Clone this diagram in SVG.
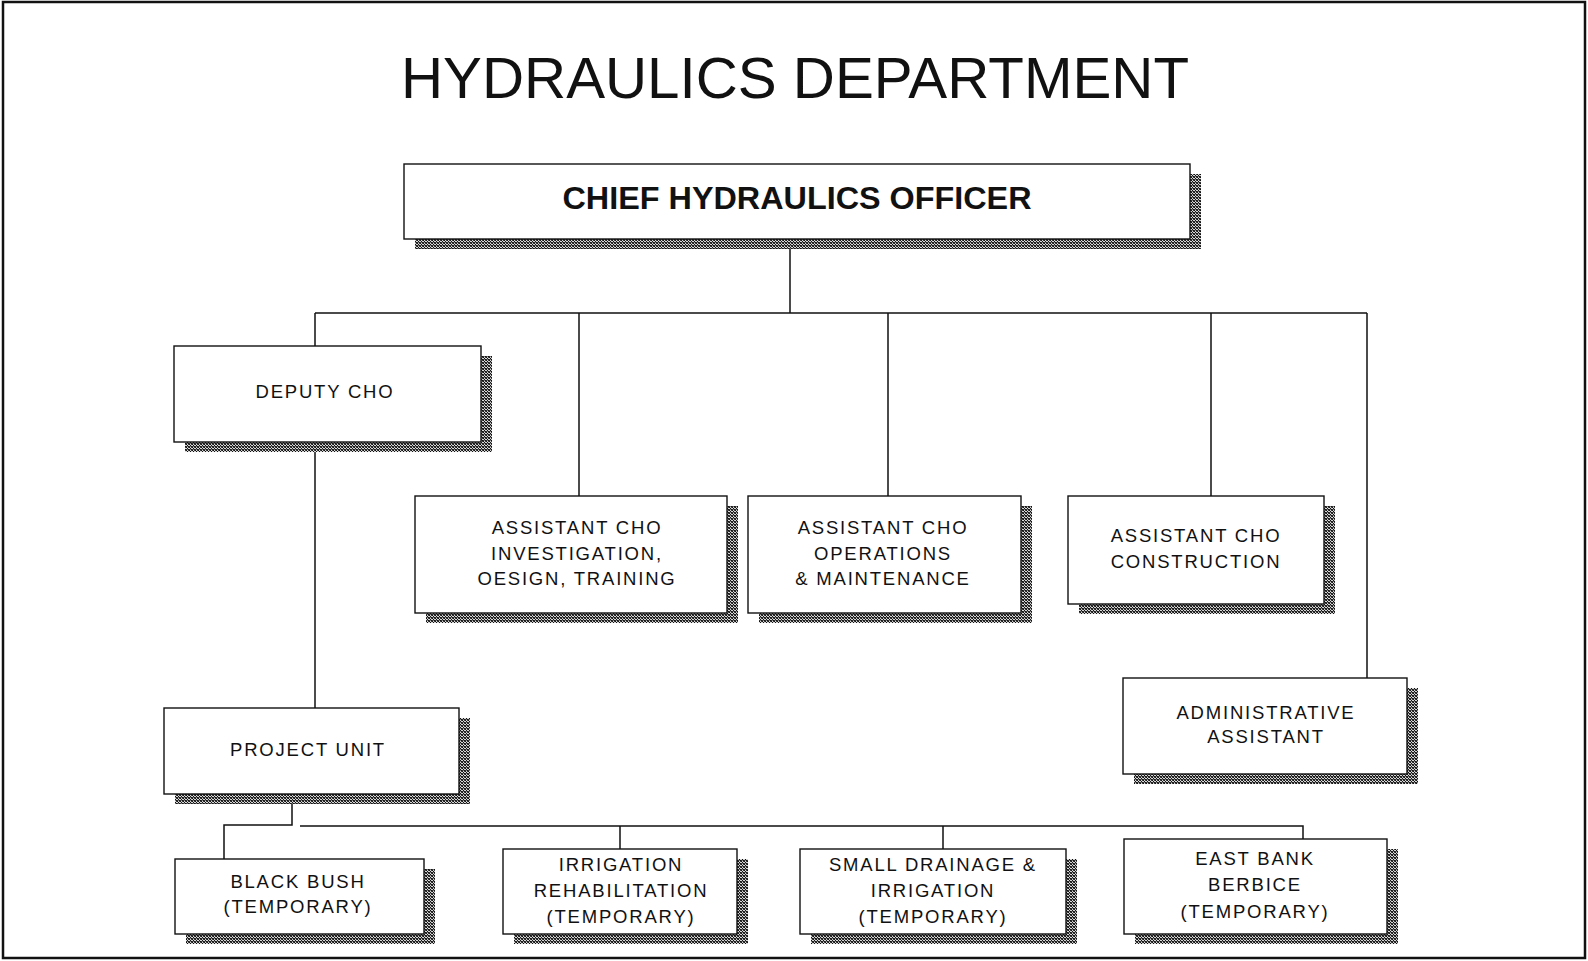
<svg xmlns="http://www.w3.org/2000/svg" width="1588" height="961" viewBox="0 0 1588 961">
<defs>
<pattern id="dither" width="3" height="3" patternUnits="userSpaceOnUse">
<rect width="3" height="3" fill="#d8d8d8"/>
<rect x="0" y="0" width="1" height="1" fill="#111"/>
<rect x="2" y="0" width="1" height="1" fill="#444"/>
<rect x="1" y="1" width="1" height="1" fill="#111"/>
<rect x="0" y="2" width="1" height="1" fill="#333"/>
<rect x="2" y="2" width="1" height="1" fill="#111"/>
<rect x="1" y="2" width="1" height="1" fill="#777"/>
</pattern>
</defs>
<style>
.box{fill:#fff;stroke:#111;stroke-width:1.4}
.shadow{fill:url(#dither)}
.lbl{font-family:"Liberation Sans",Arial,sans-serif;font-size:18.5px;letter-spacing:1.8px;fill:#111;text-anchor:middle}
.con{stroke:#111;stroke-width:1.5;fill:none}
</style>
<rect x="0" y="0" width="1588" height="961" fill="#fff"/>
<rect x="3" y="2" width="1582" height="956" fill="none" stroke="#111" stroke-width="2.5"/>
<text x="795" y="98" font-family="'Liberation Sans',Arial,sans-serif" font-size="58" text-anchor="middle" fill="#111" textLength="788" lengthAdjust="spacingAndGlyphs">HYDRAULICS DEPARTMENT</text>

<g id="connectors">
<path class="con" d="M790 239 V313 M315 313 H1367 M315 313 V346 M579 313 V496 M888 313 V496 M1211 313 V496 M1367 313 V678"/>
<path class="con" d="M315 442 V708"/>
<path class="con" d="M292 794 V825 H224 V859"/>
<path class="con" d="M300 826 H1303 V839 M620 826 V849 M943 826 V849"/>
</g>

<g id="chief">
<rect class="shadow" x="415" y="174" width="786" height="75"/>
<rect class="box" x="404" y="164" width="786" height="75"/>
<text x="797" y="209" font-family="'Liberation Sans',Arial,sans-serif" font-size="31" font-weight="bold" text-anchor="middle" fill="#111" textLength="469" lengthAdjust="spacingAndGlyphs">CHIEF HYDRAULICS OFFICER</text>
</g>

<g id="deputy">
<rect class="shadow" x="185" y="356" width="307" height="96"/>
<rect class="box" x="174" y="346" width="307" height="96"/>
<text class="lbl" x="325" y="398">DEPUTY CHO</text>
</g>

<g id="acho-investigation">
<rect class="shadow" x="426" y="506" width="312" height="117"/>
<rect class="box" x="415" y="496" width="312" height="117"/>
<text class="lbl" x="577" y="534">ASSISTANT CHO</text>
<text class="lbl" x="577" y="560">INVESTIGATION,</text>
<text class="lbl" x="577" y="585">OESIGN, TRAINING</text>
</g>

<g id="acho-operations">
<rect class="shadow" x="759" y="506" width="273" height="117"/>
<rect class="box" x="748" y="496" width="273" height="117"/>
<text class="lbl" x="883" y="534">ASSISTANT CHO</text>
<text class="lbl" x="883" y="560">OPERATIONS</text>
<text class="lbl" x="883" y="585">&amp; MAINTENANCE</text>
</g>

<g id="acho-construction">
<rect class="shadow" x="1079" y="506" width="256" height="108"/>
<rect class="box" x="1068" y="496" width="256" height="108"/>
<text class="lbl" x="1196" y="542">ASSISTANT CHO</text>
<text class="lbl" x="1196" y="568">CONSTRUCTION</text>
</g>

<g id="admin-assistant">
<rect class="shadow" x="1134" y="688" width="284" height="96"/>
<rect class="box" x="1123" y="678" width="284" height="96"/>
<text class="lbl" x="1266" y="719">ADMINISTRATIVE</text>
<text class="lbl" x="1266" y="743">ASSISTANT</text>
</g>

<g id="project-unit">
<rect class="shadow" x="175" y="718" width="295" height="86"/>
<rect class="box" x="164" y="708" width="295" height="86"/>
<text class="lbl" x="308" y="756">PROJECT UNIT</text>
</g>

<g id="black-bush">
<rect class="shadow" x="186" y="869" width="249" height="75"/>
<rect class="box" x="175" y="859" width="249" height="75"/>
<text class="lbl" x="298" y="888">BLACK BUSH</text>
<text class="lbl" x="298" y="913">(TEMPORARY)</text>
</g>

<g id="irrigation-rehab">
<rect class="shadow" x="514" y="859" width="234" height="85"/>
<rect class="box" x="503" y="849" width="234" height="85"/>
<text class="lbl" x="621" y="871">IRRIGATION</text>
<text class="lbl" x="621" y="897">REHABILITATION</text>
<text class="lbl" x="621" y="923">(TEMPORARY)</text>
</g>

<g id="small-drainage">
<rect class="shadow" x="811" y="859" width="266" height="85"/>
<rect class="box" x="800" y="849" width="266" height="85"/>
<text class="lbl" x="933" y="871">SMALL DRAINAGE &amp;</text>
<text class="lbl" x="933" y="897">IRRIGATION</text>
<text class="lbl" x="933" y="923">(TEMPORARY)</text>
</g>

<g id="east-bank">
<rect class="shadow" x="1135" y="849" width="263" height="95"/>
<rect class="box" x="1124" y="839" width="263" height="95"/>
<text class="lbl" x="1255" y="865">EAST BANK</text>
<text class="lbl" x="1255" y="891">BERBICE</text>
<text class="lbl" x="1255" y="918">(TEMPORARY)</text>
</g>
</svg>
